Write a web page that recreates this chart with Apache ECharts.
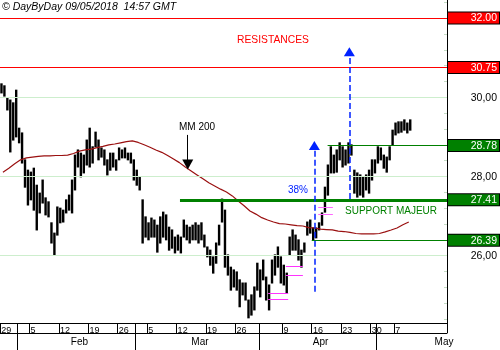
<!DOCTYPE html>
<html>
<head>
<meta charset="utf-8">
<script src="https://cdn.jsdelivr.net/npm/echarts@6/dist/echarts.min.js"></script>
<style>
  html, body { margin: 0; padding: 0; background: #fff; }
  #chart { width: 500px; height: 350px; }
</style>
</head>
<body>
<div id="chart"></div>
<script>
// Half-session bars (two per trading day), 29 Jan 2018 -> 9 May 2018
const highs = [
  30.34, 30.29, 29.98, 29.93, 29.86, 30.18, 29.22, 29.10, 28.42, 28.16,
  28.11, 28.21, 27.78, 27.58, 27.91, 27.46, 27.36, 26.83, 26.57, 27.23,
  27.20, 27.15, 27.41, 27.53, 27.91, 28.54, 28.67, 28.59, 28.54, 28.92,
  29.22, 28.75, 29.12, 28.92, 28.72, 28.67, 28.42, 28.59, 28.59, 28.42,
  28.72, 28.67, 28.72, 28.59, 28.59, 28.42, 28.16, 27.99, 27.41, 26.98,
  26.83, 26.95, 26.90, 26.77, 26.98, 27.10, 27.03, 26.72, 26.65, 26.47,
  26.52, 26.47, 26.90, 26.77, 26.72, 26.77, 26.83, 26.77, 26.83, 26.52,
  26.22, 26.14, 25.97, 26.32, 26.77, 27.43, 27.15, 26.02, 25.71, 25.64,
  25.59, 25.39, 25.31, 25.31, 24.88, 25.01, 25.21, 25.81, 25.64, 25.89,
  25.46, 25.26, 25.89, 26.02, 26.22, 25.97, 25.76, 25.56, 26.47, 26.65,
  26.52, 26.40, 26.14, 26.32, 26.85, 26.90, 26.70, 26.70, 26.83, 27.08,
  27.73, 28.29, 28.75, 28.54, 28.67, 28.85, 28.75, 28.67, 28.85, 28.80,
  28.16, 28.09, 28.04, 27.99, 28.04, 28.16, 28.42, 28.42, 28.75, 28.72,
  28.54, 28.49, 28.75, 29.17, 29.35, 29.38, 29.38, 29.43, 29.35, 29.43
];
const lows = [
  30.11, 30.03, 29.68, 28.62, 28.92, 29.00, 28.85, 28.34, 27.73, 27.28,
  27.41, 27.15, 26.65, 27.08, 27.33, 27.03, 26.98, 26.32, 26.02, 26.52,
  26.83, 26.85, 27.08, 27.15, 27.08, 27.66, 28.24, 27.99, 28.09, 28.29,
  28.24, 28.34, 28.75, 28.42, 28.49, 28.29, 28.04, 28.16, 28.24, 28.16,
  28.42, 28.47, 28.47, 28.42, 28.34, 27.91, 27.78, 27.66, 26.32, 26.47,
  26.40, 26.47, 26.47, 26.09, 26.32, 26.47, 26.40, 26.14, 26.19, 26.07,
  26.14, 26.07, 26.47, 26.40, 26.32, 26.40, 26.40, 26.32, 26.40, 26.22,
  25.97, 25.76, 25.56, 25.81, 26.27, 26.85, 25.71, 25.51, 25.13, 25.21,
  25.13, 24.71, 25.01, 24.88, 24.43, 24.50, 24.63, 25.13, 24.96, 25.39,
  24.88, 24.63, 25.31, 25.51, 25.71, 25.31, 25.26, 25.06, 26.02, 26.14,
  26.14, 25.89, 25.71, 26.09, 26.52, 26.57, 26.40, 26.45, 26.65, 26.77,
  27.10, 27.53, 28.09, 28.09, 28.11, 28.42, 28.24, 28.29, 28.34, 28.54,
  27.58, 27.48, 27.53, 27.48, 27.66, 27.58, 27.91, 28.09, 28.34, 28.42,
  28.21, 28.11, 28.42, 28.80, 29.05, 29.10, 29.12, 29.17, 29.10, 29.17
];
// 200-period moving average, one value per session
const ma200 = [
  28.11, 28.21, 28.32, 28.42, 28.47, 28.49, 28.51, 28.52, 28.52, 28.53,
  28.53, 28.54, 28.58, 28.64, 28.67, 28.69, 28.73, 28.76, 28.80, 28.82,
  28.85, 28.88, 28.90, 28.86, 28.80, 28.74, 28.67, 28.61, 28.53, 28.44,
  28.35, 28.24, 28.14, 28.04, 27.94, 27.84, 27.76, 27.68, 27.61, 27.51,
  27.38, 27.26, 27.13, 27.05, 26.96, 26.90, 26.85, 26.81, 26.80, 26.78,
  26.76, 26.75, 26.71, 26.70, 26.67, 26.66, 26.65, 26.62, 26.61, 26.59,
  26.56, 26.55, 26.55, 26.55, 26.56, 26.60, 26.65, 26.70, 26.78, 26.85
];
const resistances = [32.00, 30.75];
const supports = [28.78, 27.41, 26.39];
const gridValues = [26, 28, 30];
const holidays = ['2018-03-30', '2018-04-02', '2018-05-01'];
const monthNames = ['Jan', 'Feb', 'Mar', 'Apr', 'May'];

const FONT = '"Liberation Sans", Arial, sans-serif';
const SPAN = 76;               // sessions visible across the plot
const lastSession = highs.length / 2 - 1;

// Trading sessions of the period
const sessions = [];
for (let d = new Date(Date.UTC(2018, 0, 29)); d <= new Date(Date.UTC(2018, 4, 31)); d.setUTCDate(d.getUTCDate() + 1)) {
  const wd = d.getUTCDay();
  const iso = d.toISOString().slice(0, 10);
  if (wd === 0 || wd === 6 || holidays.includes(iso)) continue;
  sessions.push(new Date(d.getTime()));
}

const weekTicks = [], weekLabels = [], monthTicks = [], monthMids = [], monthOf = {};
sessions.forEach((d, i) => {
  const prev = sessions[i - 1];
  const weekStart = i === 0 || d.getUTCDay() <= prev.getUTCDay();
  const monthStart = i > 0 && d.getUTCMonth() !== prev.getUTCMonth();
  if (monthStart) monthTicks.push(i);
  if (i > lastSession) return;
  if (weekStart || monthStart) weekTicks.push(i);
  if (weekStart && !monthStart) weekLabels.push(i + 0.2);
});
weekTicks.push(SPAN);   // closes the date row at the price scale
monthTicks.forEach((start, k) => {
  const next = k + 1 < monthTicks.length ? monthTicks[k + 1] : sessions.length;
  const mid = (start + next) / 2 + 0.5;
  monthMids.push(mid);
  monthOf[mid] = monthNames[sessions[start].getUTCMonth()];
});

const bars = highs.map((h, i) => [i / 2 + 0.25, lows[i], h]);
const maLine = ma200.map((v, d) => [d + 0.5, v]);

const minorTicks = [];
for (let v = 24.4; v < 32.45; v += 0.4) minorTicks.push(+v.toFixed(1));
const priceLabels = gridValues.concat(resistances, supports).sort((a, b) => a - b);

const chart = echarts.init(document.getElementById('chart'), null, { renderer: 'canvas' });

const boxStyle = (bg) => ({
  backgroundColor: bg, color: '#fff', borderColor: '#000', borderWidth: 1,
  width: 47, align: 'right', padding: [1, 2, 0, 2], height: 10, lineHeight: 10,
  fontSize: 10.5, fontFamily: FONT
});

// a straight segment between two data points
const seg = (x1, y1, x2, y2, color, width, dash, endSymbol, endSize) => [
  { coord: [x1, y1], symbol: 'none', lineStyle: { color: color, width: width, type: dash || 'solid' } },
  { coord: [x2, y2], symbol: endSymbol || 'none', symbolSize: endSize || 0 }
];

chart.setOption({
  animation: false,
  backgroundColor: '#fff',
  grid: { left: 0, right: 53, top: 0, bottom: 27, containLabel: false, outerBoundsMode: 'none' },
  xAxis: [
    {
      type: 'value', min: 0, max: SPAN, position: 'bottom',
      axisLine: { show: true, onZero: false, lineStyle: { color: '#000', width: 1 } },
      axisTick: { show: true, customValues: weekTicks, length: 10, lineStyle: { color: '#000', width: 1 } },
      axisLabel: {
        customValues: weekLabels, align: 'left', margin: 3, fontSize: 9, fontFamily: FONT, color: '#000',
        formatter: (v) => String(sessions[Math.floor(v)].getUTCDate())
      },
      splitLine: { show: false }
    },
    {
      type: 'value', min: 0, max: SPAN, position: 'bottom', offset: 10,
      axisLine: { show: true, onZero: false, lineStyle: { color: '#000', width: 1 } },
      axisTick: { show: true, customValues: monthTicks, length: 17, lineStyle: { color: '#000', width: 1 } },
      axisLabel: {
        customValues: monthMids, margin: 4, fontSize: 10, fontFamily: FONT, color: '#000',
        formatter: (v) => monthOf[v] || ''
      },
      splitLine: { show: false }
    }
  ],
  yAxis: {
    type: 'value', position: 'right', min: 24.30, max: 32.457, scale: true,
    axisLine: { show: true, onZero: false, lineStyle: { color: '#000', width: 1 } },
    axisTick: { show: true, inside: true, length: 3, customValues: minorTicks, lineStyle: { color: '#c4dcc4' } },
    splitLine: { show: false },
    axisLabel: {
      customValues: priceLabels, margin: 1,
      formatter: (v) => {
        if (resistances.includes(v)) return '{r|' + v.toFixed(2) + '}';
        if (supports.includes(v)) return '{g|' + v.toFixed(2) + '}';
        return '{n|' + v.toFixed(2).replace('.', ',') + '}';
      },
      rich: {
        r: boxStyle('#ff0000'),
        g: boxStyle('#008000'),
        n: { color: '#000', width: 47, align: 'right', padding: [1, 2, 0, 2], height: 10, lineHeight: 10, fontSize: 10.5, fontFamily: FONT }
      }
    }
  },
  series: [
    {
      // light horizontal grid
      type: 'line', data: [], z: 1, silent: true,
      markLine: {
        silent: true, symbol: ['none', 'none'], label: { show: false }, animation: false,
        lineStyle: { color: '#cdeecd', width: 1, type: 'solid' },
        data: gridValues.map((v) => ({ yAxis: v }))
      }
    },
    {
      // resistance and support levels
      type: 'line', data: [], z: 2, silent: true,
      markLine: {
        silent: true, symbol: ['none', 'none'], label: { show: false }, animation: false,
        data: [
          seg(0, resistances[0], SPAN, resistances[0], '#ff0000', 1),
          seg(0, resistances[1], SPAN, resistances[1], '#ff0000', 1),
          seg(55.7, supports[0], SPAN, supports[0], '#008000', 1),
          seg(30.6, supports[1], SPAN, supports[1], '#008000', 3),
          seg(53.0, supports[2], SPAN, supports[2], '#008000', 1)
        ]
      }
    },
    {
      type: 'custom', name: 'Cours', z: 3, clip: true,
      data: bars,
      renderItem: (params, api) => {
        const x = api.value(0);
        const lo = api.coord([x, api.value(1)]);
        const hi = api.coord([x, api.value(2)]);
        return {
          type: 'line',
          shape: { x1: lo[0], y1: lo[1] + 0.5, x2: hi[0], y2: hi[1] - 0.5 },
          style: { stroke: '#000', lineWidth: 2.4 }
        };
      }
    },
    {
      type: 'line', name: 'MM 200', z: 4, data: maLine, showSymbol: false, clip: true,
      lineStyle: { color: '#9a1010', width: 1.2 }
    },
    {
      // gap markers and arrows
      type: 'line', data: [], z: 5, silent: true,
      markLine: {
        silent: true, symbol: ['none', 'none'], label: { show: false }, animation: false,
        data: [
          seg(45.6, 25.06, 49.0, 25.06, '#ff33ff', 1),
          seg(45.6, 24.91, 49.0, 24.91, '#ff33ff', 1),
          seg(48.6, 25.74, 51.5, 25.74, '#ff33ff', 1),
          seg(48.6, 25.51, 51.5, 25.51, '#ff33ff', 1),
          seg(54.1, 27.23, 56.6, 27.23, '#ff66ff', 1),
          seg(54.1, 27.05, 56.6, 27.05, '#ff66ff', 1),
          seg(31.92, 29.05, 31.92, 28.30, '#000', 1, 'solid', 'triangle', [11, 10]),
          seg(53.45, 25.09, 53.45, 28.78, '#0022ff', 1.5, [6, 3], 'triangle', [11, 9]),
          seg(59.40, 27.43, 59.40, 31.15, '#0022ff', 1.5, [6, 3], 'triangle', [11, 9])
        ]
      }
    }
  ],
  graphic: [
    { type: 'text', left: 2, top: 1.5, silent: true,
      style: { text: '\u00A9 DayByDay 09/05/2018  14:57 GMT', font: 'italic 10.5px ' + FONT, fill: '#000' } },
    { type: 'text', left: 237, top: 35.5, silent: true,
      style: { text: 'RESISTANCES', font: '10.3px ' + FONT, fill: '#ff0000' } },
    { type: 'text', left: 179, top: 122.5, silent: true,
      style: { text: 'MM 200', font: '10px ' + FONT, fill: '#000' } },
    { type: 'text', left: 288, top: 185, silent: true,
      style: { text: '38%', font: '10px ' + FONT, fill: '#0022ff' } },
    { type: 'text', left: 345, top: 206.5, silent: true,
      style: { text: 'SUPPORT MAJEUR', font: '10px ' + FONT, fill: '#008000' } }
  ]
});
</script>
</body>
</html>
